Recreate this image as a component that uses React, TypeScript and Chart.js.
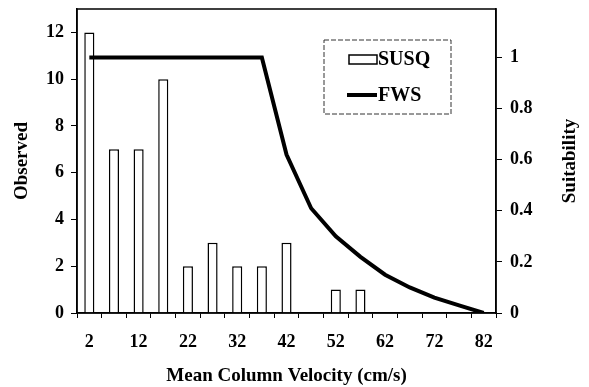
import React, { useEffect, useRef } from "react";
import { Chart, registerables } from "chart.js";

Chart.register(...registerables);

const categories = ["2", "7", "12", "17", "22", "27", "32", "37", "42", "47", "52", "57", "62", "67", "72", "77", "82"];
const susqValues = [12, 7, 7, 10, 2, 3, 2, 2, 3, 0, 1, 1, 0, 0, 0, 0, 0];
const fwsValues = [1, 1, 1, 1, 1, 1, 1, 1, 0.62, 0.41, 0.3, 0.22, 0.15, 0.1, 0.06, 0.03, 0];
const leftTitle = "Observed";
const rightTitle = "Suitability";
const bottomTitle = "Mean Column Velocity (cm/s)";
const legendLabels = ["SUSQ", "FWS"];

const FONT = "'Liberation Serif', 'Times New Roman', serif";

const decor = {
  id: "decor",
  afterDraw(chart: any) {
    const { ctx, chartArea: a } = chart;
    ctx.save();
    // plot frame
    ctx.strokeStyle = "#000";
    ctx.lineWidth = 1.5;
    ctx.strokeRect(a.left, a.top, a.right - a.left, a.bottom - a.top);

    // axis titles
    ctx.fillStyle = "#000";
    ctx.font = `bold 19px ${FONT}`;
    ctx.textAlign = "center";
    ctx.textBaseline = "middle";
    const midY = (a.top + a.bottom) / 2;
    ctx.save();
    ctx.translate(22, midY);
    ctx.rotate(-Math.PI / 2);
    ctx.fillText(leftTitle, 0, 0);
    ctx.restore();
    ctx.save();
    ctx.translate(a.right + 74, midY);
    ctx.rotate(-Math.PI / 2);
    ctx.fillText(rightTitle, 0, 0);
    ctx.restore();
    ctx.fillText(bottomTitle, (a.left + a.right) / 2, a.bottom + 63);

    // legend
    const lx = a.left + 247;
    const ly = a.top + 31;
    ctx.lineWidth = 1;
    ctx.strokeStyle = "#333";
    ctx.setLineDash([5, 2]);
    ctx.strokeRect(lx, ly, 127, 74);
    ctx.setLineDash([]);
    ctx.lineWidth = 1.5;
    ctx.strokeStyle = "#000";
    ctx.fillStyle = "#fff";
    ctx.fillRect(lx + 25, ly + 15, 28, 9);
    ctx.strokeRect(lx + 25, ly + 15, 28, 9);
    ctx.lineWidth = 4;
    ctx.beginPath();
    ctx.moveTo(lx + 23, ly + 55);
    ctx.lineTo(lx + 53, ly + 55);
    ctx.stroke();
    ctx.fillStyle = "#000";
    ctx.textAlign = "left";
    ctx.font = `bold 20px ${FONT}`;
    ctx.fillText(legendLabels[0], lx + 54, ly + 20);
    ctx.fillText(legendLabels[1], lx + 54, ly + 56);
    ctx.restore();
  },
};

export default function App() {
  const ref = useRef<HTMLCanvasElement>(null);
  useEffect(() => {
    if (!ref.current) return;
    const tickFont = { family: FONT, size: 18, weight: "bold" as const };
    const chart = new Chart(ref.current, {
      type: "bar",
      data: {
        labels: categories,
        datasets: [
          {
            type: "line" as const,
            label: legendLabels[1],
            data: fwsValues,
            yAxisID: "y1",
            borderColor: "#000",
            borderWidth: 4,
            pointRadius: 0,
            tension: 0,
            order: 0,
          },
          {
            type: "bar" as const,
            label: legendLabels[0],
            data: susqValues,
            yAxisID: "y",
            backgroundColor: "#fff",
            borderColor: "#000",
            borderWidth: 1.5,
            barPercentage: 0.41,
            categoryPercentage: 1,
            order: 1,
          },
        ],
      },
      options: {
        responsive: false,
        animation: false,
        layout: { padding: { top: 9, left: 0, right: 0, bottom: 0 } },
        plugins: { legend: { display: false }, tooltip: { enabled: false } },
        scales: {
          x: {
            offset: true,
            grid: { display: true, drawOnChartArea: false, drawTicks: true, tickLength: 5, color: "#000", offset: true },
            border: { display: true, color: "#000", width: 1.5 },
            ticks: {
              autoSkip: false,
              maxRotation: 0,
              color: "#000",
              font: tickFont,
              padding: 14,
              callback: (_v: any, i: number) => (i % 2 === 0 ? categories[i] : ""),
            },
            afterFit: (s: any) => {
              s.height = 74;
              s.paddingLeft = 0;
              s.paddingRight = 0;
            },
          },
          y: {
            position: "left",
            min: 0,
            max: 13,
            grid: { display: true, drawOnChartArea: false, drawTicks: true, tickLength: 6, color: "#000" },
            border: { display: true, color: "#000", width: 1.5 },
            ticks: { stepSize: 2, includeBounds: false, color: "#000", font: tickFont, padding: 7 },
            afterFit: (s: any) => {
              s.width = 77;
              s.paddingTop = 0;
              s.paddingBottom = 0;
            },
          },
          y1: {
            position: "right",
            min: 0,
            max: 1.19,
            grid: { display: true, drawOnChartArea: false, drawTicks: true, tickLength: 6, color: "#000" },
            border: { display: true, color: "#000", width: 1.5 },
            ticks: {
              stepSize: 0.2,
              includeBounds: false,
              color: "#000",
              font: tickFont,
              padding: 8,
              callback: (v: any) => String(Number(Number(v).toFixed(1))),
            },
            afterFit: (s: any) => {
              s.width = 93;
              s.paddingTop = 0;
              s.paddingBottom = 0;
            },
          },
        },
      },
      plugins: [decor],
    });
    return () => chart.destroy();
  }, []);
  return (
    <div style={{ position: "absolute", left: 0, top: 0, width: 589, height: 387, background: "#fff" }}>
      <canvas ref={ref} width={589} height={387} />
    </div>
  );
}
